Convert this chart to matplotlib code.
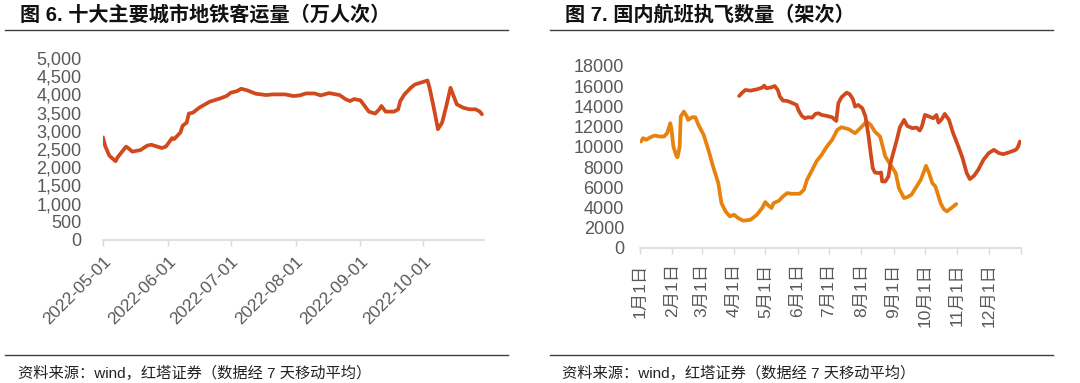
import matplotlib
matplotlib.use("Agg")
import matplotlib.pyplot as plt
import matplotlib.dates as mdates
from matplotlib.lines import Line2D
from matplotlib.ticker import FuncFormatter, FixedLocator
import numpy as np

plt.rcParams['font.family'] = ['Liberation Sans', 'Noto Sans CJK SC', 'DejaVu Sans']

# ---------------- data: left chart (subway passengers, 10k person-times) ----------------
metro_dates = ["2022-05-01", "2022-05-02", "2022-05-04", "2022-05-07", "2022-05-08", "2022-05-12",
               "2022-05-13", "2022-05-15", "2022-05-19", "2022-05-22", "2022-05-24", "2022-05-27",
               "2022-05-29", "2022-05-31", "2022-06-03", "2022-06-04", "2022-06-07", "2022-06-08",
               "2022-06-10", "2022-06-11", "2022-06-13", "2022-06-16", "2022-06-21", "2022-06-26",
               "2022-06-29", "2022-07-01", "2022-07-04", "2022-07-06", "2022-07-09", "2022-07-13",
               "2022-07-18", "2022-07-21", "2022-07-27", "2022-07-31", "2022-08-03", "2022-08-06",
               "2022-08-10", "2022-08-13", "2022-08-17", "2022-08-22", "2022-08-25", "2022-08-27",
               "2022-08-29", "2022-09-01", "2022-09-03", "2022-09-05", "2022-09-08", "2022-09-10",
               "2022-09-11", "2022-09-13", "2022-09-17", "2022-09-19", "2022-09-20", "2022-09-22",
               "2022-09-25", "2022-09-27", "2022-09-29", "2022-10-01", "2022-10-03", "2022-10-04",
               "2022-10-06", "2022-10-08", "2022-10-10", "2022-10-12", "2022-10-14", "2022-10-17",
               "2022-10-20", "2022-10-23", "2022-10-26", "2022-10-28", "2022-10-29"]
metro_values = [2818, 2590, 2318, 2164, 2273, 2564,
                2527, 2427, 2473, 2590, 2618, 2564,
                2527, 2564, 2800, 2773, 2955, 3136,
                3227, 3473, 3500, 3636, 3800, 3890,
                3955, 4045, 4090, 4155, 4109, 4018,
                3982, 4000, 4000, 3955, 3973, 4027,
                4027, 3973, 4036, 3982, 3864, 3818,
                3873, 3836, 3682, 3527, 3473, 3591,
                3682, 3527, 3527, 3590, 3818, 4000,
                4182, 4273, 4309, 4345, 4382, 4182,
                3636, 3045, 3227, 3682, 4182, 3727,
                3636, 3591, 3591, 3527, 3455]
metro_xticks = ["2022-05-01", "2022-06-01", "2022-07-01", "2022-08-01", "2022-09-01", "2022-10-01"]

# ---------------- data: right chart (domestic flights) ----------------
month_labels = ["1月1日", "2月1日", "3月1日", "4月1日", "5月1日", "6月1日",
                "7月1日", "8月1日", "9月1日", "10月1日", "11月1日", "12月1日"]
month_start_day = [0, 31, 59, 90, 120, 151, 181, 212, 243, 273, 304, 334]

orange_day = [1, 3, 6, 10, 14, 19, 23, 26, 29, 30, 32, 35, 36, 38, 39, 42, 45, 46, 50, 53,
              56, 61, 66, 70, 75, 78, 82, 86, 90, 94, 99, 106, 112, 117, 120, 123, 126, 128, 133, 137,
              141, 145, 153, 157, 160, 165, 169, 174, 179, 184, 189, 193, 200, 206, 211, 217, 221, 225, 230, 235,
              240, 245, 248, 253, 256, 260, 264, 269, 272, 274, 277, 280, 283, 288, 291, 294, 299, 303]
orange_val = [10530, 10860, 10695, 10958, 11122, 11023, 11023, 11352, 12340, 11846,
              10036, 9049, 8983, 10036, 12998, 13491, 12998, 12669, 12932, 12932,
              12175, 11188, 9543, 8062, 6417, 4442, 3620, 3126, 3291, 2962,
              2698, 2797, 3291, 3949, 4541, 4212, 3949, 4442, 4673, 5100,
              5429, 5364, 5364, 5759, 6746, 7733, 8556, 9214, 10036, 10694,
              11682, 11945, 11748, 11352, 11846, 12504, 12175, 11517, 11023, 9049,
              8226, 7404, 5923, 4936, 5035, 5265, 5923, 6746, 7568, 8128,
              7404, 6417, 6088, 4442, 3850, 3620, 4015, 4344]

red_day = [95, 98, 101, 106, 112, 117, 119, 121, 126, 129, 132, 134, 137, 141, 145, 150, 152, 155, 158, 161,
           165, 168, 171, 174, 179, 184, 188, 190, 193, 198, 201, 204, 206, 209, 213, 216, 219, 221, 223, 225,
           229, 231, 232, 235, 238, 240, 243, 246, 249, 253, 256, 261, 265, 268, 270, 273, 277, 281, 284, 286,
           289, 292, 296, 300, 305, 309, 313, 316, 320, 324, 329, 334, 339, 344, 348, 353, 360, 362, 364]
red_val = [15038, 15367, 15630, 15564, 15696, 15860, 16058, 15795, 15893, 16025,
           15630, 14972, 14577, 14544, 14380, 14150, 13590, 13064, 12833, 12932,
           12899, 13261, 13327, 13162, 13064, 12932, 12570, 14314, 14906, 15367,
           15202, 14709, 13985, 14150, 13820, 12998, 11023, 9378, 7897, 7470,
           7404, 7470, 6581, 6581, 7075, 8391, 9543, 10694, 11945, 12669,
           12076, 11846, 11912, 11616, 12011, 13162, 12998, 12833, 13162, 12405,
           12734, 13261, 12669, 11352, 10036, 8885, 7404, 6812, 7141, 7733,
           8720, 9378, 9707, 9378, 9279, 9444, 9707, 9970, 10530]

RED = "#D04A1E"
ORANGE = "#E8820E"
GRAY = "#595959"
AXIS = "#D9D9D9"

fig = plt.figure(figsize=(10.8, 3.83), dpi=100)

W, H = 1080, 383
def ax_rect(x0, x1, ytop, ybot):
    return [x0 / W, 1 - ybot / H, (x1 - x0) / W, (ybot - ytop) / H]

# ---- left axes ----
ax1 = fig.add_axes(ax_rect(103, 484, 58, 240))
d = [np.datetime64(s) for s in metro_dates]
ax1.plot(mdates.date2num(np.array(d, dtype="datetime64[D]")), metro_values, color=RED, lw=2.7,
         solid_joinstyle="round", solid_capstyle="round")
ax1.set_ylim(0, 5000)
ax1.set_xlim(mdates.date2num(np.datetime64("2022-05-01")), mdates.date2num(np.datetime64("2022-10-30")))
ax1.set_yticks(np.arange(0, 5001, 500))
ax1.yaxis.set_major_formatter(FuncFormatter(lambda v, p: f"{int(v):,}"))
xt = mdates.date2num(np.array([np.datetime64(s) for s in metro_xticks], dtype="datetime64[D]"))
ax1.set_xticks(xt)
ax1.set_xticklabels(metro_xticks, rotation=45, ha="right", va="top", rotation_mode="anchor")

# ---- right axes ----
ax2 = fig.add_axes(ax_rect(640, 1021, 66, 248))
ax2.plot(orange_day, orange_val, color=ORANGE, lw=2.7, solid_joinstyle="round", solid_capstyle="round")
ax2.plot(red_day, red_val, color=RED, lw=2.7, solid_joinstyle="round", solid_capstyle="round")
ax2.set_ylim(0, 18000)
ax2.set_xlim(0, 365)
ax2.set_yticks(np.arange(0, 18001, 2000))
ax2.set_xticks(month_start_day)
ax2.set_xticklabels(month_labels, rotation=90, ha="center", va="top")
ax2.xaxis.set_minor_locator(FixedLocator([365]))

for ax in (ax1, ax2):
    for s in ("top", "right", "left"):
        ax.spines[s].set_visible(False)
    ax.spines["bottom"].set_color(AXIS)
    ax.spines["bottom"].set_linewidth(1.2)
    ax.tick_params(axis="y", length=0, labelsize=13, labelcolor=GRAY)
    ax.tick_params(axis="x", which="both", length=4, width=1.0, color=AXIS, direction="out",
                   labelsize=12.5, labelcolor=GRAY)
    ax.patch.set_visible(False)
ax1.tick_params(axis="y", pad=15.5)
ax2.tick_params(axis="y", pad=11.5)
ax1.tick_params(axis="x", pad=6)
ax2.tick_params(axis="x", pad=7)

# ---- titles, rules, footers ----
fig.text(20 / W, 1 - 15 / H, "图 6. 十大主要城市地铁客运量（万人次）", fontsize=14.5, fontweight="bold",
         color="#111111", va="center", ha="left")
fig.text(565 / W, 1 - 15 / H, "图 7. 国内航班执飞数量（架次）", fontsize=14.5, fontweight="bold",
         color="#111111", va="center", ha="left")
for (x0, x1) in ((5, 508), (550, 1053)):
    fig.add_artist(Line2D([x0 / W, x1 / W], [1 - 29.5 / H, 1 - 29.5 / H], transform=fig.transFigure,
                          color="#404040", lw=1.0))
    fig.add_artist(Line2D([x0 / W, x1 / W], [1 - 355 / H, 1 - 355 / H], transform=fig.transFigure,
                          color="#404040", lw=1.0))
fig.text(18 / W, 1 - 373 / H, "资料来源：wind，红塔证券（数据经 7 天移动平均）", fontsize=11,
         color="#222222", va="center", ha="left")
fig.text(562 / W, 1 - 373 / H, "资料来源：wind，红塔证券（数据经 7 天移动平均）", fontsize=11,
         color="#222222", va="center", ha="left")

fig.savefig("out.png", dpi=100)
